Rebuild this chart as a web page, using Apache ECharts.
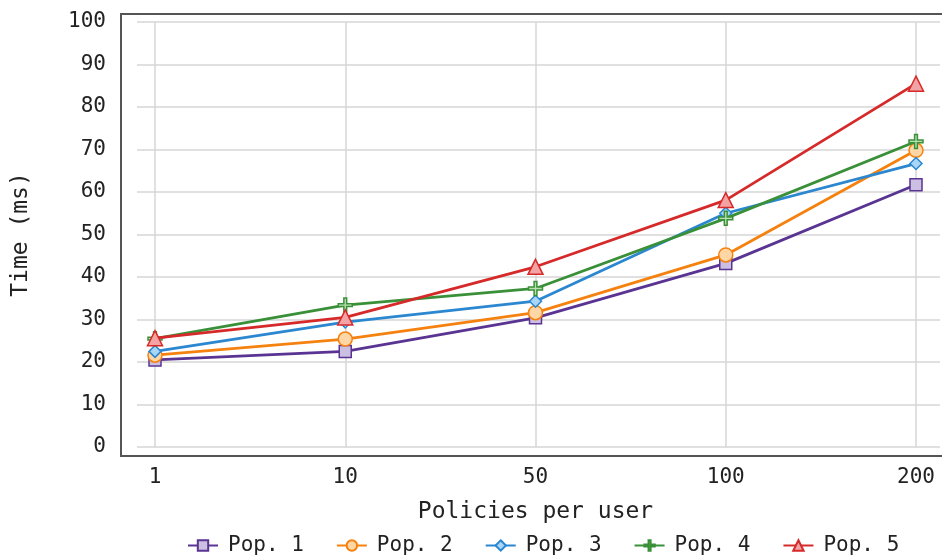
<!DOCTYPE html>
<html>
<head>
<meta charset="utf-8">
<script src="https://cdn.jsdelivr.net/npm/echarts@6/dist/echarts.min.js"></script>
<style>
  html, body { margin: 0; padding: 0; background: #fff; }
  #chart { width: 942px; height: 558px; }
</style>
</head>
<body>
<div id="chart"></div>
<script>
// Lookup latency by number of policies per user, for five populations
const categories = ['1', '10', '50', '100', '200'];
const yTicks = [0, 10, 20, 30, 40, 50, 60, 70, 80, 90, 100];
const pop1 = [20.5, 22.5, 30.4, 43.2, 61.7];
const pop2 = [21.6, 25.4, 31.6, 45.2, 69.8];
const pop3 = [22.5, 29.4, 34.3, 55.0, 66.7];
const pop4 = [25.5, 33.4, 37.3, 53.8, 71.9];
const pop5 = [25.6, 30.5, 42.4, 58.1, 85.5];
const seriesNames = ['Pop. 1', 'Pop. 2', 'Pop. 3', 'Pop. 4', 'Pop. 5'];

const FONT = 'DejaVu Sans Mono';
const plusPath = 'path://M4,0h2v4h4v2h-4v4h-2v-4h-4v-2h4z';

const styles = [
  { line: '#5a3492', fill: '#cbbfe2', symbol: 'rect', size: 12 },
  { line: '#f5820f', fill: '#ffd7a6', symbol: 'circle', size: 14 },
  { line: '#2a87d0', fill: '#a9d5f6', symbol: 'diamond', size: 12 },
  { line: '#3a9038', fill: '#b8e0b0', symbol: plusPath, size: 14 },
  { line: '#d62a2a', fill: '#f3a3a3', symbol: 'triangle', size: 15 }
];

const values = [pop1, pop2, pop3, pop4, pop5];

const chart = echarts.init(document.getElementById('chart'), null, { renderer: 'canvas' });

const option = {
  animation: false,
  backgroundColor: '#fff',
  textStyle: { fontFamily: FONT },
  grid: [
    // outer grid carries the horizontal grid lines across the whole frame
    { left: 137, right: 2, top: 22, bottom: 111 },
    // inner grid carries the categories and the lines
    { left: 155, right: 26, top: 22, bottom: 111 }
  ],
  xAxis: [
    { gridIndex: 0, type: 'value', min: 0, max: 1, show: false },
    {
      gridIndex: 1,
      type: 'category',
      data: categories,
      boundaryGap: false,
      axisLine: { show: false },
      axisTick: { show: false },
      splitLine: { show: true, lineStyle: { color: '#d6d6d6', width: 1.5 } },
      axisLabel: { color: '#222', fontFamily: FONT, fontSize: 21, margin: 20 },
      name: 'Policies per user',
      nameLocation: 'middle',
      nameGap: 54,
      nameTextStyle: { color: '#222', fontFamily: FONT, fontSize: 23 }
    }
  ],
  yAxis: [
    {
      gridIndex: 0,
      type: 'value',
      min: yTicks[0],
      max: yTicks[yTicks.length - 1],
      interval: yTicks[1] - yTicks[0],
      axisLine: { show: false },
      axisTick: { show: false },
      splitLine: { show: true, lineStyle: { color: '#d6d6d6', width: 1.5 } },
      axisLabel: { color: '#222', fontFamily: FONT, fontSize: 21, margin: 31 },
      name: 'Time (ms)',
      nameLocation: 'middle',
      nameGap: 104,
      nameRotate: 90,
      nameTextStyle: { color: '#222', fontFamily: FONT, fontSize: 23 }
    },
    {
      gridIndex: 1,
      type: 'value',
      min: yTicks[0],
      max: yTicks[yTicks.length - 1],
      show: false
    }
  ],
  legend: {
    bottom: -3,
    left: 182,
    itemWidth: 30,
    itemHeight: 13,
    itemGap: 32,
    textStyle: { color: '#222', fontFamily: FONT, fontSize: 21, padding: [0, 0, 0, 5] },
    data: seriesNames
  },
  graphic: [
    {
      type: 'polyline',
      z: 100,
      shape: { points: [[945, 14], [121, 14], [121, 456], [945, 456]] },
      style: { stroke: '#555', lineWidth: 2, fill: null }
    }
  ],
  series: values.map((vals, i) => ({
    name: seriesNames[i],
    type: 'line',
    xAxisIndex: 1,
    yAxisIndex: 1,
    data: vals,
    symbol: styles[i].symbol,
    symbolSize: styles[i].size,
    showAllSymbol: true,
    lineStyle: { color: styles[i].line, width: 2.8 },
    itemStyle: { color: styles[i].fill, borderColor: styles[i].line, borderWidth: 1.5 },
    emphasis: { disabled: true },
    z: 2 + i
  }))
};

chart.setOption(option);
</script>
</body>
</html>
